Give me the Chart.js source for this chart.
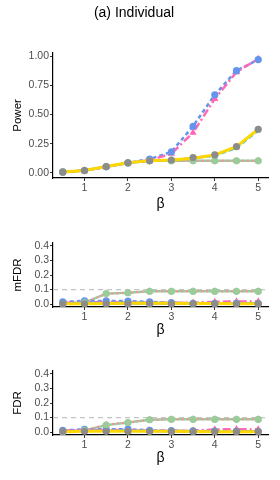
<!DOCTYPE html>
<html>
<head>
<meta charset="utf-8">
<script src="https://cdn.jsdelivr.net/npm/chart.js@4.4.0/dist/chart.umd.min.js"></script>
<style>
  html, body { margin: 0; padding: 0; background: #fff; }
  #wrap { position: relative; width: 280px; height: 480px; }
  canvas { position: absolute; left: 0; }
</style>
</head>
<body>
<div id="wrap">
  <canvas id="powerChart" width="280" height="215" style="top:0"></canvas>
  <canvas id="mfdrChart" width="280" height="125" style="top:215px"></canvas>
  <canvas id="fdrChart" width="280" height="128" style="top:340px"></canvas>
</div>
<script>
// x values (effect size beta)
const betas = [0.5, 1, 1.5, 2, 2.5, 3, 3.5, 4, 4.5, 5];
const xTicks = [1, 2, 3, 4, 5];
const powerTicks = [0, 0.25, 0.5, 0.75, 1];
const fdrTicks = [0, 0.1, 0.2, 0.3, 0.4];
const fdrLevel = 0.1;

// Power
const powerBlue   = [0.008, 0.020, 0.052, 0.086, 0.118, 0.180, 0.400, 0.670, 0.877, 0.972];
const powerPink   = [0.008, 0.020, 0.052, 0.086, 0.108, 0.165, 0.345, 0.635, 0.865, 0.978];
const powerGold   = [0.008, 0.020, 0.054, 0.086, 0.105, 0.110, 0.126, 0.154, 0.225, 0.374];
const powerCyan   = [0.008, 0.020, 0.054, 0.086, 0.105, 0.110, 0.124, 0.146, 0.214, 0.362];
const powerGray   = [0.006, 0.020, 0.054, 0.086, 0.103, 0.110, 0.132, 0.154, 0.225, 0.374];
const powerGreen  = [0.008, 0.020, 0.052, 0.085, 0.103, 0.105, 0.103, 0.103, 0.103, 0.103];
const powerSalmon = [0.008, 0.020, 0.052, 0.085, 0.103, 0.105, 0.103, 0.103, 0.103, 0.103];

// mFDR
const mfdrBlue   = [0.015, 0.022, 0.022, 0.020, 0.015, 0.010, 0.005, 0.005, 0.005, 0.003];
const mfdrPink   = [0.010, 0.012, 0.015, 0.012, 0.010, 0.008, 0.010, 0.015, 0.018, 0.018];
const mfdrGold   = [0.002, 0.003, 0.004, 0.005, 0.005, 0.005, 0.004, 0.004, 0.003, 0.003];
const mfdrCyan   = [0.005, 0.008, 0.010, 0.010, 0.008, 0.008, 0.006, 0.006, 0.005, 0.004];
const mfdrGray   = [0.001, 0.001, 0.001, 0.001, 0.001, 0.001, 0.001, 0.001, 0.001, 0.001];
const mfdrGreen  = [0.000, 0.010, 0.072, 0.078, 0.088, 0.088, 0.088, 0.088, 0.088, 0.088];
const mfdrSalmon = [0.000, 0.012, 0.070, 0.078, 0.089, 0.089, 0.089, 0.089, 0.089, 0.089];

// FDR
const fdrBlue   = [0.012, 0.018, 0.020, 0.020, 0.012, 0.010, 0.008, 0.006, 0.005, 0.004];
const fdrPink   = [0.010, 0.015, 0.012, 0.015, 0.010, 0.008, 0.010, 0.018, 0.020, 0.018];
const fdrGold   = [0.003, 0.005, 0.006, 0.006, 0.005, 0.005, 0.004, 0.003, 0.003, 0.002];
const fdrCyan   = [0.006, 0.008, 0.010, 0.010, 0.008, 0.008, 0.006, 0.006, 0.005, 0.004];
const fdrGray   = [0.005, 0.005, 0.005, 0.005, 0.004, 0.003, 0.003, 0.003, 0.003, 0.003];
const fdrGreen  = [0.000, 0.012, 0.048, 0.066, 0.085, 0.088, 0.088, 0.088, 0.088, 0.088];
const fdrSalmon = [0.000, 0.012, 0.052, 0.066, 0.086, 0.089, 0.089, 0.089, 0.089, 0.089];

const X_MIN = 0.275, X_MAX = 5.225;
const FONT = '"Liberation Sans", Arial, sans-serif';

const styles = {
  gray:   { color: '#8c8c8c', dash: [],           width: 1.5, point: 'circle',   radius: 3.6 },
  cyan:   { color: '#1ec3f0', dash: [5, 3],       width: 2.2, point: 'rect',     radius: 2.5 },
  gold:   { color: '#ffd700', dash: [],           width: 3,   point: 'triangle', radius: 4 },
  blue:   { color: '#6495ed', dash: [4, 3],       width: 2.5, point: 'circle',   radius: 3.6 },
  pink:   { color: '#ff69b4', dash: [8, 3, 2, 3], width: 2.5, point: 'triangle', radius: 4.2 },
  salmon: { color: '#ff8da1', dash: [2, 3],       width: 2,   point: 'triangle', radius: 4 },
  green:  { color: '#99cc99', dash: [],           width: 2.5, point: 'circle',   radius: 3.6 }
};

// like ggplot: every line goes under every point
const lineOrder  = ['gold', 'cyan', 'gray', 'salmon', 'pink', 'blue', 'green'];  // first = top
const pointOrder = ['gray', 'green', 'blue', 'cyan', 'gold', 'pink', 'salmon'];

function toPoints(vals) {
  return betas.map((b, i) => ({ x: b, y: vals[i] }));
}

function makeDatasets(series, withRef) {
  const pointSets = pointOrder.map(key => {
    const st = styles[key];
    return {
      data: toPoints(series[key]),
      showLine: false,
      backgroundColor: st.color,
      borderColor: st.color,
      pointStyle: st.point,
      pointRadius: st.radius,
      pointBorderWidth: 0,
      order: 0
    };
  });
  const lineSets = lineOrder.map(key => {
    const st = styles[key];
    return {
      data: toPoints(series[key]),
      borderColor: st.color,
      borderWidth: st.width,
      borderDash: st.dash,
      pointRadius: 0,
      tension: 0,
      order: 1
    };
  });
  const sets = pointSets.concat(lineSets);
  if (withRef) {
    sets.push({
      data: [{ x: X_MIN, y: fdrLevel }, { x: X_MAX, y: fdrLevel }],
      borderColor: '#c4c4c4',
      borderWidth: 1.2,
      borderDash: [5, 4],
      pointRadius: 0,
      order: 2
    });
  }
  return sets;
}

function makePanel(id, cfg) {
  const ctx = document.getElementById(id).getContext('2d');
  return new Chart(ctx, {
    type: 'line',
    data: { datasets: makeDatasets(cfg.series, cfg.withRef) },
    options: {
      responsive: false,
      animation: false,
      layout: { padding: { left: 0, right: 12, top: cfg.padTop, bottom: 0 } },
      plugins: {
        legend: { display: false },
        tooltip: { enabled: false },
        title: cfg.title ? {
          display: true,
          text: cfg.title,
          color: '#000',
          font: { family: FONT, size: 14, weight: 'normal' },
          padding: { top: 5, bottom: 31 }
        } : { display: false }
      },
      scales: {
        x: {
          type: 'linear',
          min: X_MIN,
          max: X_MAX,
          afterBuildTicks: s => { s.ticks = xTicks.map(v => ({ value: v })); },
          afterFit: s => { s.height = cfg.xHeight; },
          border: { display: true, color: '#000', width: 1.2 },
          grid: { drawOnChartArea: false, drawTicks: true, tickLength: 3, color: '#333' },
          ticks: {
            color: '#4d4d4d',
            padding: 1,
            maxRotation: 0,
            font: { family: FONT, size: 10.5 },
            callback: v => String(v)
          },
          title: {
            display: true,
            text: 'β',
            color: '#000',
            font: { family: FONT, size: 14 },
            padding: { top: 0, bottom: cfg.betaPad }
          }
        },
        y: {
          min: cfg.yMin,
          max: cfg.yMax,
          afterBuildTicks: s => { s.ticks = cfg.yTicks.map(v => ({ value: v })); },
          afterFit: s => { s.width = 53; },
          border: { display: true, color: '#000', width: 1.2 },
          grid: { drawOnChartArea: false, drawTicks: true, tickLength: 3, color: '#333' },
          ticks: {
            color: '#4d4d4d',
            padding: 1,
            font: { family: FONT, size: 10.5 },
            callback: v => v.toFixed(cfg.decimals)
          },
          title: {
            display: true,
            text: cfg.yLabel,
            color: '#000',
            font: { family: FONT, size: 11.5 },
            padding: { top: 11, bottom: 0 }
          }
        }
      }
    }
  });
}

makePanel('powerChart', {
  title: '(a) Individual',
  yLabel: 'Power',
  yMin: -0.044, yMax: 1.03,
  yTicks: powerTicks, decimals: 2,
  padTop: 0, xHeight: 37, betaPad: 2,
  withRef: false,
  series: { gray: powerGray, cyan: powerCyan, gold: powerGold, blue: powerBlue,
            pink: powerPink, salmon: powerSalmon, green: powerGreen }
});

makePanel('mfdrChart', {
  yLabel: 'mFDR',
  yMin: -0.02, yMax: 0.42,
  yTicks: fdrTicks, decimals: 1,
  padTop: 28, xHeight: 33, betaPad: 1,
  withRef: true,
  series: { gray: mfdrGray, cyan: mfdrCyan, gold: mfdrGold, blue: mfdrBlue,
            pink: mfdrPink, salmon: mfdrSalmon, green: mfdrGreen }
});

makePanel('fdrChart', {
  yLabel: 'FDR',
  yMin: -0.02, yMax: 0.42,
  yTicks: fdrTicks, decimals: 1,
  padTop: 31, xHeight: 33, betaPad: 1,
  withRef: true,
  series: { gray: fdrGray, cyan: fdrCyan, gold: fdrGold, blue: fdrBlue,
            pink: fdrPink, salmon: fdrSalmon, green: fdrGreen }
});
</script>
</body>
</html>
